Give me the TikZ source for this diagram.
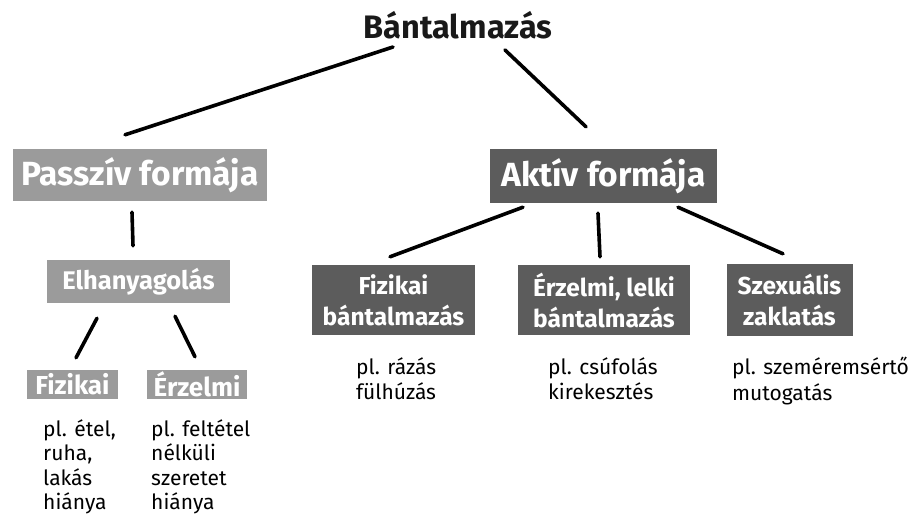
\documentclass[tikz,border=0pt]{standalone}
\usepackage{fontspec}
\setmainfont{Fira Sans}
\usetikzlibrary{calc}
\definecolor{lightbox}{HTML}{9B9B9B}
\definecolor{darkbox}{HTML}{5C5C5C}
\tikzset{
  box/.style={rectangle, inner sep=0pt, text=white, align=center, font=\bfseries},
  lightb/.style={box, fill=lightbox},
  darkb/.style={box, fill=darkbox},
  conn/.style={line width=3.6pt, line cap=round, black},
  note/.style={anchor=north west, align=left, inner sep=0pt, font=\fontsize{21}{25.5}\selectfont},
  longnote/.style={note, font=\fontsize{21}{24.5}\selectfont},
}
\begin{document}
\begin{tikzpicture}[x=1pt,y=-1pt]
\useasboundingbox (0,0) rectangle (908,518);
\node[inner sep=0pt, font=\fontsize{32.5}{38}\selectfont\bfseries, text=black!90] (title) at (458,25) {Bántalmazás};

\node[lightb, minimum width=254pt, minimum height=52pt, font=\fontsize{33.5}{38}\selectfont\bfseries] (passziv) at (140,175) {Passzív formája};
\node[darkb, minimum width=227pt, minimum height=54pt, font=\fontsize{33.5}{38}\selectfont\bfseries] (aktiv) at (603.5,176) {Aktív formája};

\node[lightb, minimum width=183pt, minimum height=43pt, font=\fontsize{25.5}{30}\selectfont\bfseries] (elh) at (138.5,281.5) {Elhanyagolás};
\node[lightb, minimum width=91pt, minimum height=29pt, font=\fontsize{26}{30}\selectfont\bfseries] (fiz1) at (72.5,384.5) {Fizikai};
\node[lightb, minimum width=100pt, minimum height=29pt, font=\fontsize{26}{30}\selectfont\bfseries] (erz1) at (197,384.5) {Érzelmi};

\node[darkb, minimum width=163pt, minimum height=70pt, font=\fontsize{24.5}{31}\selectfont\bfseries] (fizb) at (393.5,300) {Fizikai\\bántalmazás};
\node[darkb, minimum width=172pt, minimum height=70pt, font=\fontsize{24.5}{31}\selectfont\bfseries] (erzb) at (604,300) {Érzelmi, lelki\\bántalmazás};
\node[darkb, minimum width=126pt, minimum height=72pt, font=\fontsize{24.5}{31}\selectfont\bfseries] (szex) at (789.5,300) {Szexuális\\zaklatás};

\node[longnote] (n1) at (43,419) {pl. étel,\\ruha,\\lakás\\hiánya};
\node[longnote] (n2) at (151,419) {pl. feltétel\\nélküli\\szeretet\\hiánya};
\node[note] (n3) at (356,357) {pl. rázás\\fülhúzás};
\node[note] (n4) at (548,357) {pl. csúfolás\\kirekesztés};
\node[note] (n5) at (732,357) {pl. szeméremsértő\\mutogatás};

\draw[conn] ($(title.center)+(-65,22)$) -- ($(passziv.north)+(-15,-14)$);
\draw[conn] ($(title.center)+(47,25)$) -- ($(aktiv.north)+(-17.5,-22)$);
\draw[conn] ($(passziv.south)+(-8,11)$) -- ($(elh.north)+(-5.5,-14)$);
\draw[conn] ($(elh.south)+(-41.5,15)$) -- ($(fiz1.north)+(3.5,-12)$);
\draw[conn] ($(elh.south)+(36.5,13)$) -- ($(erz1.north)+(-2,-13)$);
\draw[conn] ($(aktiv.south)+(-80.5,4)$) -- ($(fizb.north)+(-3.5,-8)$);
\draw[conn] ($(aktiv.south)+(-5.5,10)$) -- ($(erzb.north)+(-4,-8)$);
\draw[conn] ($(aktiv.south)+(74.5,4)$) -- ($(szex.north)+(-6.5,-10)$);
\end{tikzpicture}
\end{document}
